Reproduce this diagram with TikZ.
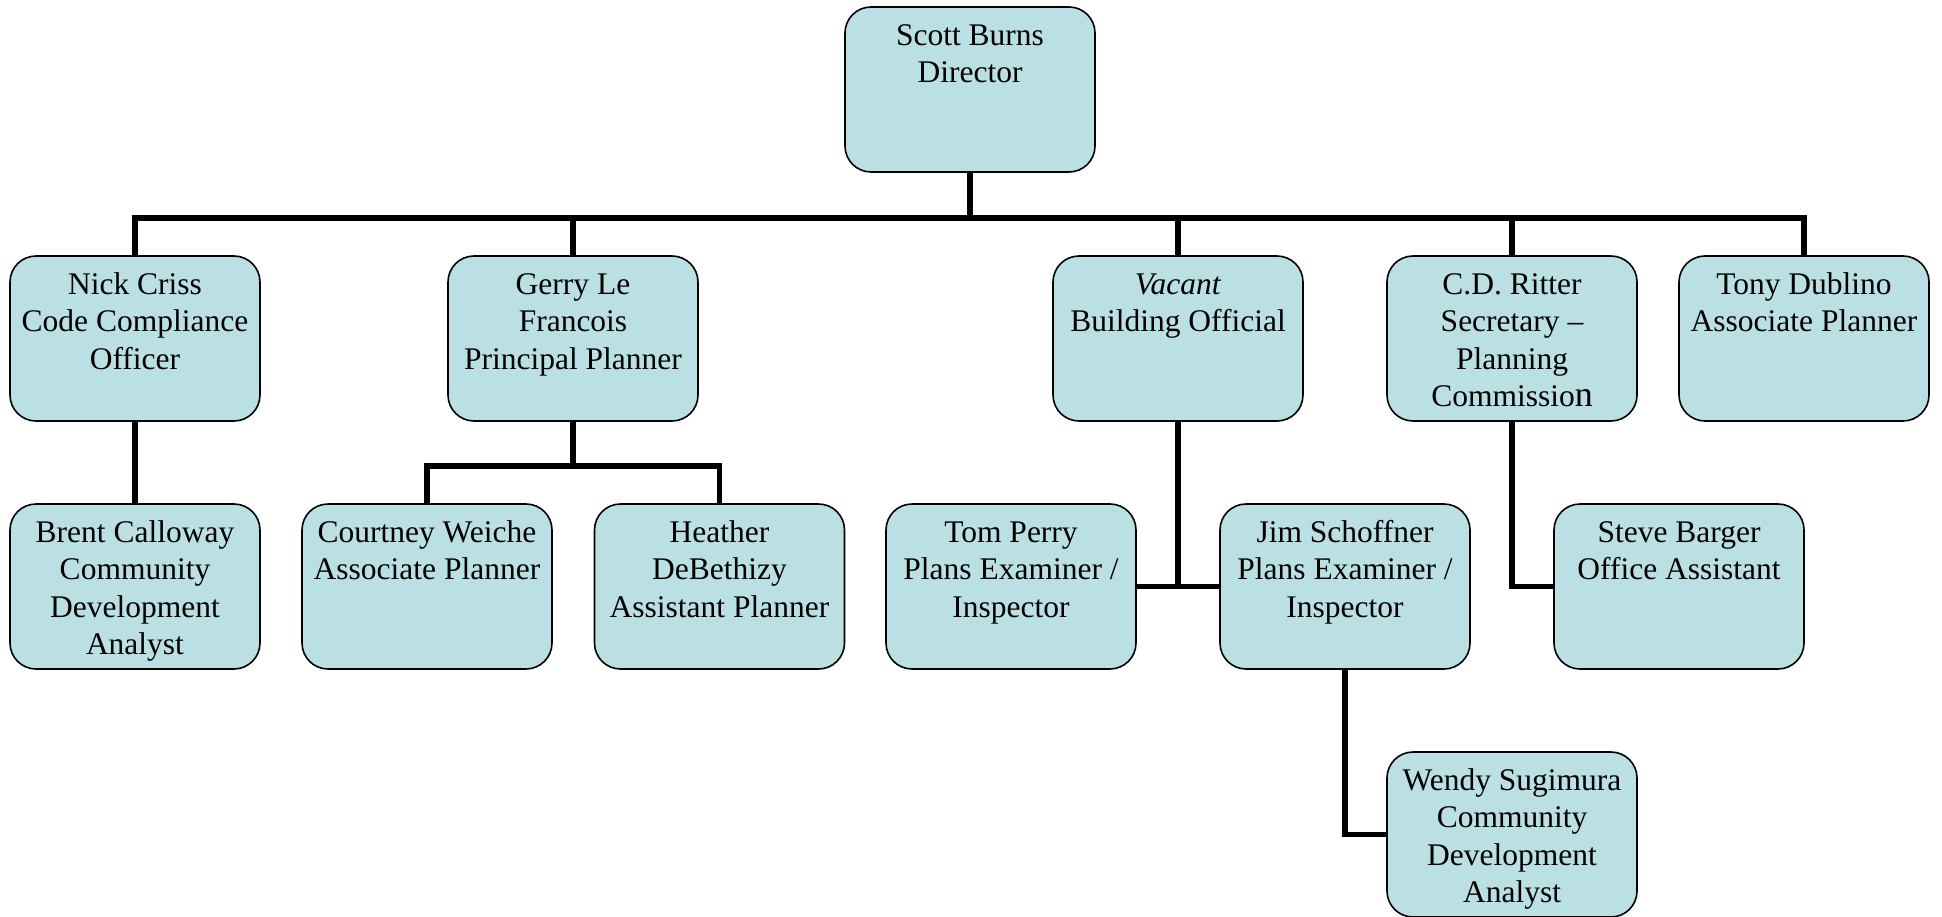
\documentclass[tikz,border=0pt]{standalone}
\usepackage{fontspec}
\setmainfont{Liberation Serif}
\definecolor{boxfill}{RGB}{187,224,227}
\tikzset{
  unit/.style={draw=black, line width=1.6pt, fill=boxfill, rectangle,
    rounded corners=26pt, minimum width=250pt, minimum height=165pt, inner sep=0pt},
  caption/.style={anchor=north, align=center, inner sep=0pt,
    font=\fontsize{31.5}{37.5}\selectfont},
  conn/.style={line width=5.8pt, line join=miter, draw=black},
}
\newcommand{\orgbox}[4]{% name, centre x, top y, text
  \node[unit] (#1) at (#2,#3+82.5) {};
  \node[caption] (#1-t) at ([yshift=-12.5pt]#1.north) {\strut#4};
}
\begin{document}
\begin{tikzpicture}[x=1pt,y=-1pt]
\useasboundingbox (0,0) rectangle (1942,917);

% top level
\orgbox{scott}{970}{7}{Scott Burns\\Director}

% first level
\orgbox{nick}{135}{256}{Nick Criss\\Code Compliance\\Officer}
\orgbox{gerry}{573}{256}{Gerry Le\\Francois\\Principal Planner}
\orgbox{vacant}{1178}{256}{\textit{Vacant}\\Building Official}
\orgbox{ritter}{1512}{256}{C.D. Ritter\\Secretary –\\Planning\\Commissio{\fontsize{36}{37.5}\selectfont n}}
\orgbox{tony}{1804}{256}{Tony Dublino\\Associate Planner}

% second level
\orgbox{brent}{135}{504}{Brent Calloway\\Community\\Development\\Analyst}
\orgbox{courtney}{427}{504}{Courtney Weiche\\Associate Planner}
\orgbox{heather}{719.5}{504}{Heather\\DeBethizy\\Assistant Planner}
\orgbox{tom}{1011}{504}{Tom Perry\\Plans Examiner /\\Inspector}
\orgbox{jim}{1345}{504}{Jim Schoffner\\Plans Examiner /\\Inspector}
\orgbox{steve}{1679}{504}{Steve Barger\\Office Assistant}

% third level
\orgbox{wendy}{1512}{752}{Wendy Sugimura\\Community\\Development\\Analyst}

% bus lines
\coordinate (bus) at (970,218);
\coordinate (gbus) at (573,466);

\draw[conn] (scott.south) -- (scott.south |- bus);
\draw[conn] (nick.north) |- (tony.north |- bus) -- (tony.north);
\draw[conn] (gerry.north) -- (gerry.north |- bus);
\draw[conn] (vacant.north) -- (vacant.north |- bus);
\draw[conn] (ritter.north) -- (ritter.north |- bus);

\draw[conn] (nick.south) -- (brent.north);

\draw[conn] (gerry.south) -- (gerry.south |- gbus);
\draw[conn] (courtney.north) |- (heather.north |- gbus) -- (heather.north);

\draw[conn] (vacant.south) -- (vacant.south |- tom.east);
\draw[conn] (tom.east) -- (jim.west);

\draw[conn] (ritter.south) |- (steve.west);
\draw[conn] (jim.south) |- (wendy.west);
\end{tikzpicture}
\end{document}
